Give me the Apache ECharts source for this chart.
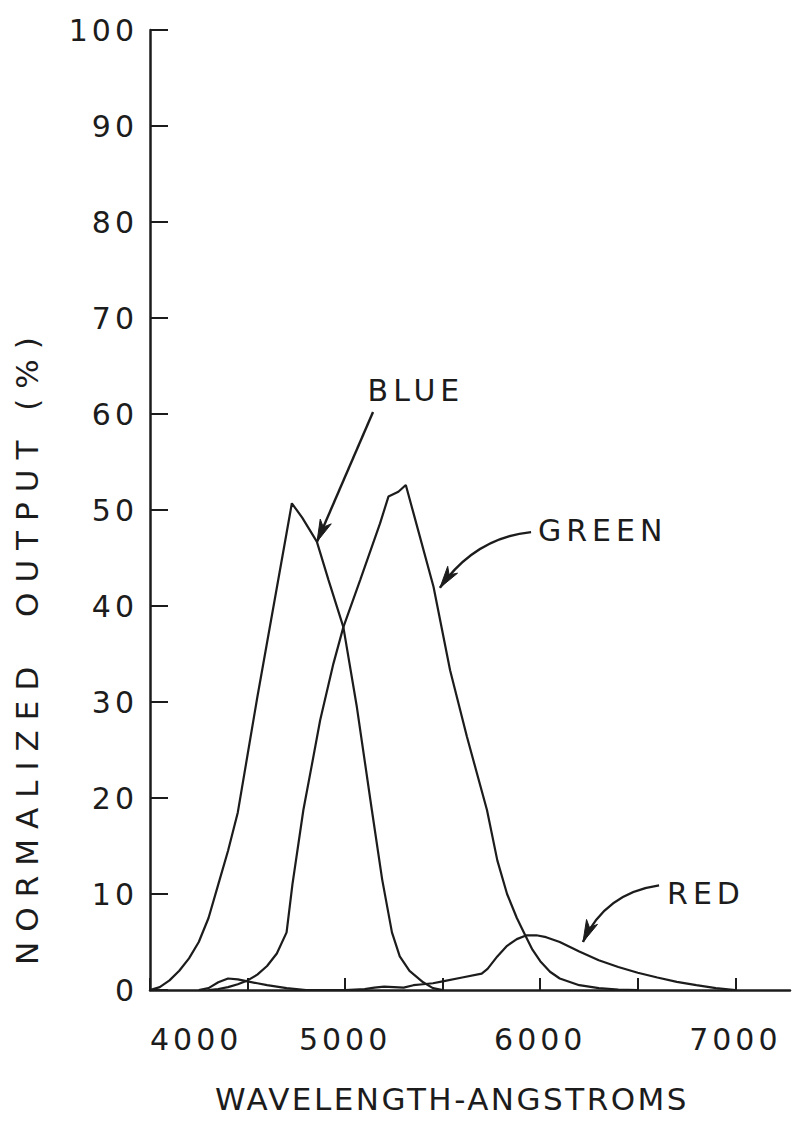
<!DOCTYPE html>
<html>
<head>
<meta charset="utf-8">
<script src="https://cdn.jsdelivr.net/npm/echarts@6/dist/echarts.min.js"></script>
<style>
  html, body { margin: 0; padding: 0; background: #fff; }
  #chart { width: 793px; height: 1125px; }
</style>
</head>
<body>
<div id="chart"></div>
<script>
// Normalized spectral output of the blue, green and red channels (percent vs. wavelength in angstroms)
const blueWavelengths = [4000, 4050, 4100, 4150, 4200, 4250, 4300, 4350, 4400, 4450, 4500, 4550, 4600, 4650, 4700, 4727, 4780, 4855, 4915, 4991, 5060, 5137, 5190, 5240, 5280, 5330, 5400, 5450, 5500];
const blueOutput      = [0, 0.3, 1, 2, 3.3, 5, 7.5, 11, 14.5, 18.5, 24.5, 30.5, 36.2, 41.9, 47.6, 50.7, 49.2, 46.7, 42.7, 37.8, 29.5, 18.75, 11.5, 6, 3.5, 2, 0.8, 0.2, 0];

const greenWavelengths = [4300, 4350, 4400, 4450, 4500, 4550, 4600, 4650, 4700, 4730, 4786, 4830, 4872, 4940, 4991, 5077, 5179, 5222, 5273, 5311, 5350, 5453, 5538, 5624, 5727, 5780, 5830, 5880, 5923, 5960, 6000, 6050, 6100, 6200, 6300, 6400, 6500];
const greenOutput      = [0, 0.1, 0.3, 0.6, 1.0, 1.6, 2.5, 3.8, 6, 11, 18.75, 23.5, 28.1, 34, 37.8, 42.7, 48.6, 51.4, 51.9, 52.6, 49.7, 42, 33.3, 26.4, 18.75, 13.5, 10, 7.5, 5.7, 4.2, 3, 1.9, 1.2, 0.5, 0.2, 0.05, 0];

const redWavelengths = [4250, 4300, 4350, 4400, 4450, 4500, 4550, 4600, 4700, 4800, 4900, 5000, 5100, 5150, 5200, 5250, 5300, 5350, 5400, 5450, 5500, 5600, 5700, 5730, 5780, 5830, 5880, 5930, 5980, 6030, 6100, 6150, 6200, 6300, 6400, 6500, 6600, 6700, 6800, 6900, 7000];
const redOutput      = [0, 0.2, 0.8, 1.2, 1.1, 0.9, 0.7, 0.5, 0.2, 0, 0, 0, 0.1, 0.25, 0.35, 0.3, 0.25, 0.5, 0.6, 0.7, 0.9, 1.3, 1.7, 2.2, 3.5, 4.6, 5.3, 5.7, 5.7, 5.5, 5.0, 4.5, 4.0, 3.1, 2.4, 1.8, 1.3, 0.85, 0.5, 0.2, 0];

const xTickValues  = [4000, 4500, 5000, 5500, 6000, 6500, 7000];
const xLabelValues = [4000, 5000, 6000, 7000];

// Curve annotations: label anchor, arrow start, optional control point, arrow tip (data space)
const annotations = [
  { text: 'BLUE',  label: [5363, 62.5], align: 'center', start: [5143, 60.2], ctrl: null,         tip: [4856, 46.7] },
  { text: 'GREEN', label: [5988, 47.9], align: 'left',   start: [5953, 47.7], ctrl: [5666, 47.1], tip: [5486, 41.9] },
  { text: 'RED',   label: [6650, 10.1], align: 'left',   start: [6609, 10.9], ctrl: [6332, 10.1], tip: [6219, 5.0] }
];

const FONT = 'DejaVu Sans';
const INK = '#1c1c1c';

const pairs = (xs, ys) => xs.map((x, i) => [x, ys[i]]);

const chart = echarts.init(document.getElementById('chart'), null, { renderer: 'svg' });

function curve(name, xs, ys) {
  return {
    name: name,
    type: 'line',
    data: pairs(xs, ys),
    symbol: 'none',
    smooth: false,
    lineStyle: { color: INK, width: 2.2 },
    itemStyle: { color: INK },
    z: 3
  };
}

chart.setOption({
  animation: false,
  backgroundColor: '#ffffff',
  grid: { left: 150, right: 3, top: 30, bottom: 135 },
  xAxis: {
    type: 'value',
    min: 4000,
    max: 7280,
    interval: 500,
    axisLine: { show: true, lineStyle: { color: INK, width: 2.5 } },
    axisTick: { show: true, inside: true, length: 12, customValues: xTickValues, lineStyle: { color: INK, width: 2 } },
    axisLabel: {
      customValues: xLabelValues,
      formatter: v => String(v),
      fontFamily: FONT, fontSize: 30, color: INK, margin: 34,
      alignMinLabel: 'left'
    },
    splitLine: { show: false },
    name: 'WAVELENGTH-ANGSTROMS',
    nameLocation: 'middle',
    nameGap: 93,
    nameTextStyle: { fontFamily: FONT, fontSize: 31, color: INK, padding: [0, 36, 0, 0] }
  },
  yAxis: {
    type: 'value',
    min: 0,
    max: 100,
    interval: 10,
    axisLine: { show: true, lineStyle: { color: INK, width: 2.5 } },
    axisTick: { show: true, inside: true, length: 18, lineStyle: { color: INK, width: 2 } },
    axisLabel: { formatter: v => String(v), fontFamily: FONT, fontSize: 30, color: INK, margin: 12 },
    splitLine: { show: false }
  },
  series: [
    curve('BLUE', blueWavelengths, blueOutput),
    curve('GREEN', greenWavelengths, greenOutput),
    curve('RED', redWavelengths, redOutput)
  ]
});

const px = p => chart.convertToPixel({ gridIndex: 0 }, p);

function arrowHead(tip, from) {
  const dx = tip[0] - from[0], dy = tip[1] - from[1];
  const len = Math.hypot(dx, dy) || 1;
  const ux = dx / len, uy = dy / len;
  const nx = -uy, ny = ux;
  const L = 22, W = 6;
  return [
    tip,
    [tip[0] - ux * L + nx * W, tip[1] - uy * L + ny * W],
    [tip[0] - ux * L * 0.72, tip[1] - uy * L * 0.72],
    [tip[0] - ux * L - nx * W, tip[1] - uy * L - ny * W]
  ];
}

const graphics = [];
annotations.forEach(a => {
  const lp = px(a.label), s = px(a.start), t = px(a.tip);
  graphics.push({
    type: 'text', x: lp[0], y: lp[1], z: 10,
    style: { text: a.text, fontFamily: FONT, fontSize: 30, fill: INK, align: a.align, verticalAlign: 'middle' }
  });
  let from;
  if (a.ctrl) {
    const c = px(a.ctrl);
    graphics.push({
      type: 'bezierCurve', z: 10,
      shape: { x1: s[0], y1: s[1], cpx1: c[0], cpy1: c[1], x2: t[0], y2: t[1] },
      style: { stroke: INK, lineWidth: 2.4, fill: null }
    });
    from = c;
  } else {
    graphics.push({
      type: 'line', z: 10,
      shape: { x1: s[0], y1: s[1], x2: t[0], y2: t[1] },
      style: { stroke: INK, lineWidth: 2.4 }
    });
    from = s;
  }
  graphics.push({
    type: 'polygon', z: 11,
    shape: { points: arrowHead(t, from) },
    style: { fill: INK, stroke: INK, lineWidth: 1 }
  });
});

// Rotated y-axis title
graphics.push({
  type: 'text', x: 27, y: 646, rotation: Math.PI / 2, z: 10,
  style: { text: 'NORMALIZED  OUTPUT (%)', fontFamily: FONT, fontSize: 31, fill: INK, align: 'center', verticalAlign: 'middle' }
});

chart.setOption({ graphic: graphics });

// Hand-lettered look: widen the tracking of every text run
function track() {
  document.querySelectorAll('#chart text').forEach(el => {
    const t = el.textContent || '';
    let s = 4;
    if (t.indexOf('NORMALIZED') === 0) s = 10;
    else if (t.indexOf('WAVELENGTH') === 0) s = 2.5;
    else if (/^[A-Z]+$/.test(t)) s = 5;
    el.style.letterSpacing = s + 'px';
  });
}
chart.on('finished', track);
track();
</script>
</body>
</html>
